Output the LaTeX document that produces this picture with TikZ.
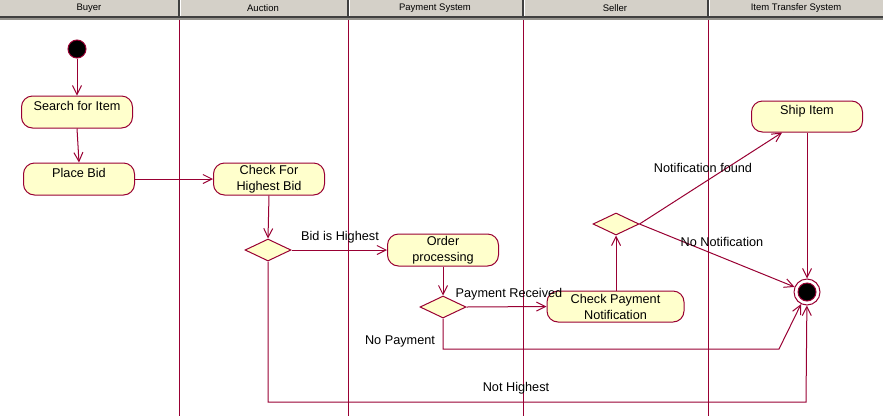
\documentclass[tikz,border=0pt]{standalone}
\usepackage{fontspec}
\setmainfont{Liberation Sans}
\usetikzlibrary{arrows.meta,shapes.geometric,calc}
\definecolor{umlred}{RGB}{153,0,51}
\definecolor{umlfill}{RGB}{255,255,204}
\definecolor{hdrgray}{RGB}{212,208,200}
\definecolor{hdrdark}{RGB}{64,64,64}
\tikzset{
  actbox/.style={draw=umlred, fill=umlfill, line width=1pt, rounded corners=11pt,
    minimum width=111pt, minimum height=32pt, inner sep=0pt, align=center,
    font=\fontsize{12.7}{16}\selectfont},
  decision/.style={draw=umlred, fill=umlfill, line width=1pt, diamond,
    minimum width=46pt, minimum height=22pt, inner sep=0pt, shape aspect=2.1},
  flow/.style={draw=umlred, line width=1pt, -{Straight Barb[length=9pt,width=9pt]}},
  lbl/.style={font=\fontsize{12.7}{14}\selectfont, inner sep=0pt},
  hdr/.style={font=\fontsize{9.5}{11}\selectfont, inner sep=0pt},
  lane/.style={draw=umlred, line width=1pt},
}
\newcommand{\oneline}[1]{\raisebox{6pt}[8.6pt][0pt]{#1}}
\newcommand{\twoline}[2]{\raisebox{-2pt}[8.6pt][0pt]{\raisebox{8pt}{#1}}\\\raisebox{-2pt}[8.6pt][0pt]{\raisebox{0pt}{#2}}}
\begin{document}
\begin{tikzpicture}[x=1pt,y=-1pt]
\useasboundingbox (0,0) rectangle (883,416);
\fill[white] (0,0) rectangle (883,416);
% header
\fill[hdrgray] (0,0) rectangle (883,16);
\fill[hdrdark] (0,15.5) rectangle (883,18);
\fill[hdrgray!70!black] (0,18) rectangle (883,19.5);
\foreach \x in {178,347,522,707}{
  \fill[hdrdark] (\x,0) rectangle (\x+1.6,16);
  \fill[white] (\x+1.6,0) rectangle (\x+2.6,16);
}
\node[hdr] (hbuyer) at (89,8) {Buyer};
\node[hdr] (hauction) at (263,8) {Auction};
\node[hdr] (hpay) at (435,8) {Payment System};
\node[hdr] (hseller) at (615,8) {Seller};
\node[hdr] (hitem) at (796,8) {Item Transfer System};
% lanes
\foreach \x in {179.5,348.5,523.5,708.5}{
  \draw[lane] (\x,19.5) -- (\x,416);
}
% nodes
\node[circle, fill=black, draw=umlred, line width=1pt, minimum size=18pt, inner sep=0pt] (start) at (77,49) {};
\node[actbox] (search) at (77,112) {\oneline{Search for Item}};
\node[actbox] (place) at (79,179) {\oneline{Place Bid}};
\node[actbox] (check) at (269,179) {Check For\\Highest Bid};
\node[decision] (d1) at (268,250) {};
\node[actbox] (order) at (443,250) {Order\\processing};
\node[decision] (d2) at (443,307) {};
\node[actbox, minimum width=137pt, minimum height=31pt] (cpn) at (615.5,306.5) {Check Payment\\Notification};
\node[decision] (d3) at (616,224) {};
\node[actbox, minimum height=31pt] (ship) at (807,116.5) {\oneline{Ship Item}};
\node[circle, draw=umlred, fill=white, line width=1pt, minimum size=26pt, inner sep=0pt] (end) at (807,292) {};
\node[circle, fill=black, draw=umlred, line width=1pt, minimum size=18pt, inner sep=0pt] (endin) at (807,292) {};
% coordinates
\coordinate (nh) at (806,402);
\coordinate (np) at (779,349);
% edges
\draw[flow] (start) -- (search);
\draw[flow] (search.south) -- (place.north);
\draw[flow] (place) -- (check);
\draw[flow] (check.south) -- (d1.north);
\draw[flow] (d1.east) -- (order.west);
\draw[flow] (d1.south) |- (nh) -- (end);
\draw[flow] (order.south) -- (d2.north);
\draw[flow] (d2.east) -- (cpn.west);
\draw[flow] (d2.south) |- (np) -- (end);
\draw[flow] (cpn.north -| d3.south) -- (d3.south);
\draw[flow] (d3.east) -- (ship);
\draw[flow] (d3.east) -- (end);
\draw[flow] (ship.south) -- (end.north);
% labels
\node[lbl] (lbid) at (340,237) {Bid is Highest};
\node[lbl] (lnh) at (516,388) {Not Highest};
\node[lbl] (lpr) at (509,294) {Payment Received};
\node[lbl] (lnp) at (400,341) {No Payment};
\node[lbl] (lnf) at (703,168) {Notification found};
\node[lbl] (lnn) at (722,242) {No Notification};
\end{tikzpicture}
\end{document}
